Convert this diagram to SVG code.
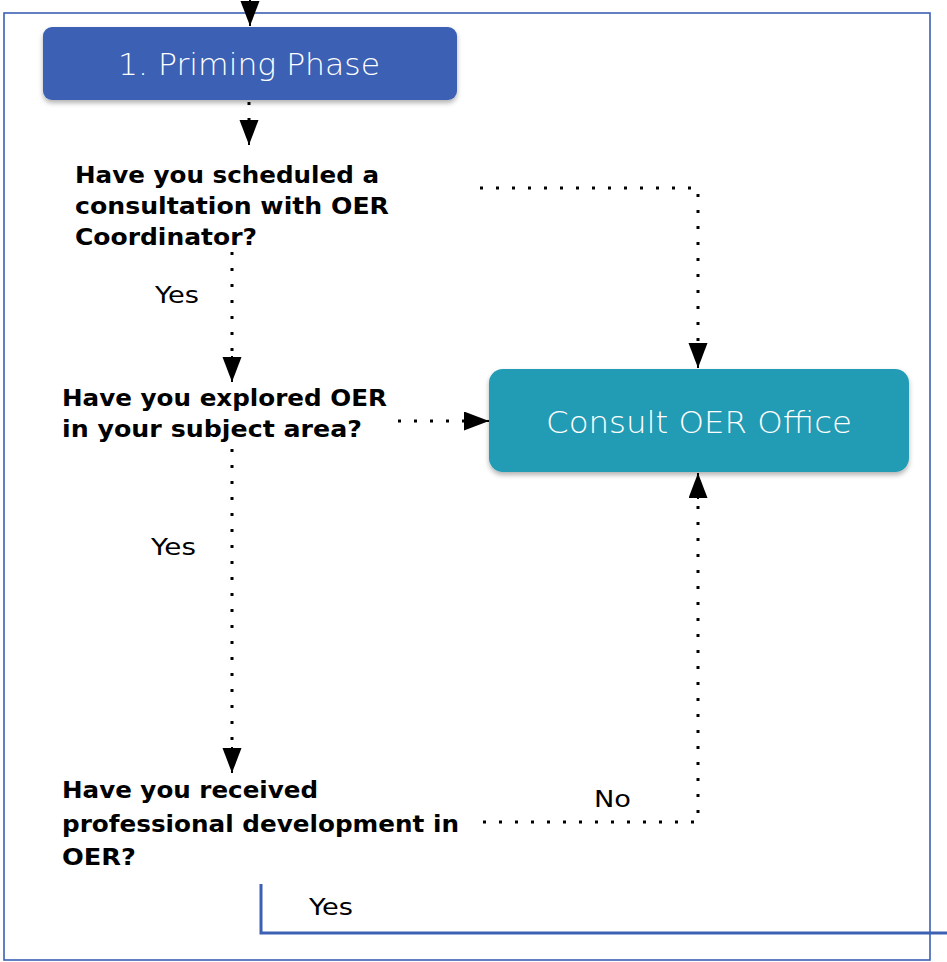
<svg xmlns="http://www.w3.org/2000/svg" width="947" height="962" viewBox="0 0 947 962">
  <style>
    .q { font-family: "DejaVu Sans", "Open Sans", sans-serif; font-weight: 700; font-size: 23.5px; fill: #000; }
    .lbl { font-family: "DejaVu Sans", "Open Sans", sans-serif; font-weight: 400; font-size: 22.5px; fill: #000; }
    .ntxt { font-family: "DejaVu Sans", "Open Sans", sans-serif; font-weight: 200; font-size: 30px; fill: #fff; }
    .dot { fill: none; stroke: #000; stroke-width: 3; stroke-dasharray: 3 13; }
    .solid { fill: none; stroke: #000; stroke-width: 2; }
  </style>
  <defs>
    <marker id="ah" markerUnits="userSpaceOnUse" markerWidth="26" markerHeight="20" refX="25" refY="9.5" orient="auto">
      <path d="M0,0 L25,9.5 L0,19 z" fill="#000"/>
    </marker>
    <filter id="sh" x="-10%" y="-20%" width="120%" height="150%">
      <feDropShadow dx="0" dy="3" stdDeviation="2.5" flood-color="#000" flood-opacity="0.3"/>
    </filter>
  </defs>
  <rect width="947" height="962" fill="#fff"/>
  <g id="frame">
    <rect x="4" y="13" width="926" height="947" fill="none" stroke="#3b60b4" stroke-width="1.6"/>
  </g>
  <g id="connectors">
    <path class="solid" d="M250,0 L250,26" marker-end="url(#ah)"/>
    <path class="dot" d="M249,102 L249,120"/>
    <path class="solid" d="M249,118 L249,145" marker-end="url(#ah)"/>
    <path class="dot" d="M480,188 L698,188 L698,350"/>
    <path class="solid" d="M698,343 L698,368" marker-end="url(#ah)"/>
    <path class="dot" d="M232,252 L232,360"/>
    <path class="solid" d="M232,356 L232,382" marker-end="url(#ah)"/>
    <path class="dot" d="M398,421 L465,421"/>
    <path class="solid" d="M462,421 L489,421" marker-end="url(#ah)"/>
    <path class="dot" d="M232,449 L232,752"/>
    <path class="solid" d="M232,747 L232,773" marker-end="url(#ah)"/>
    <path class="dot" d="M483,822 L698,822 L698,495"/>
    <path class="solid" d="M698,499 L698,473" marker-end="url(#ah)"/>
    <path d="M261,884 L261,933 L947,933" fill="none" stroke="#3b60b4" stroke-width="3"/>
  </g>
  <g id="priming">
    <rect x="43" y="27" width="414" height="73" rx="9" fill="#3b60b4" filter="url(#sh)"/>
    <text class="ntxt" x="249" y="75" text-anchor="middle" textLength="262" lengthAdjust="spacingAndGlyphs">1. Priming Phase</text>
  </g>
  <g id="q1">
    <text class="q" x="75" y="183" textLength="304" lengthAdjust="spacingAndGlyphs">Have you scheduled a</text>
    <text class="q" x="75" y="214" textLength="314" lengthAdjust="spacingAndGlyphs">consultation with OER</text>
    <text class="q" x="75" y="245" textLength="182" lengthAdjust="spacingAndGlyphs">Coordinator?</text>
  </g>
  <g id="q2">
    <text class="q" x="62" y="406" textLength="325" lengthAdjust="spacingAndGlyphs">Have you explored OER</text>
    <text class="q" x="62" y="437" textLength="300" lengthAdjust="spacingAndGlyphs">in your subject area?</text>
  </g>
  <g id="q3">
    <text class="q" x="62" y="798" textLength="256" lengthAdjust="spacingAndGlyphs">Have you received</text>
    <text class="q" x="62" y="832" textLength="397" lengthAdjust="spacingAndGlyphs">professional development in</text>
    <text class="q" x="62" y="865" textLength="74" lengthAdjust="spacingAndGlyphs">OER?</text>
  </g>
  <g id="consult">
    <rect x="489" y="369" width="420" height="103" rx="14" fill="#229bb4" filter="url(#sh)"/>
    <text class="ntxt" x="699" y="433" text-anchor="middle" textLength="306" lengthAdjust="spacingAndGlyphs">Consult OER Office</text>
  </g>
  <g id="labels">
    <text class="lbl" x="155" y="303" textLength="44" lengthAdjust="spacingAndGlyphs">Yes</text>
    <text class="lbl" x="151" y="555" textLength="45" lengthAdjust="spacingAndGlyphs">Yes</text>
    <text class="lbl" x="594" y="807" textLength="37" lengthAdjust="spacingAndGlyphs">No</text>
    <text class="lbl" x="309" y="915" textLength="44" lengthAdjust="spacingAndGlyphs">Yes</text>
  </g>
</svg>
